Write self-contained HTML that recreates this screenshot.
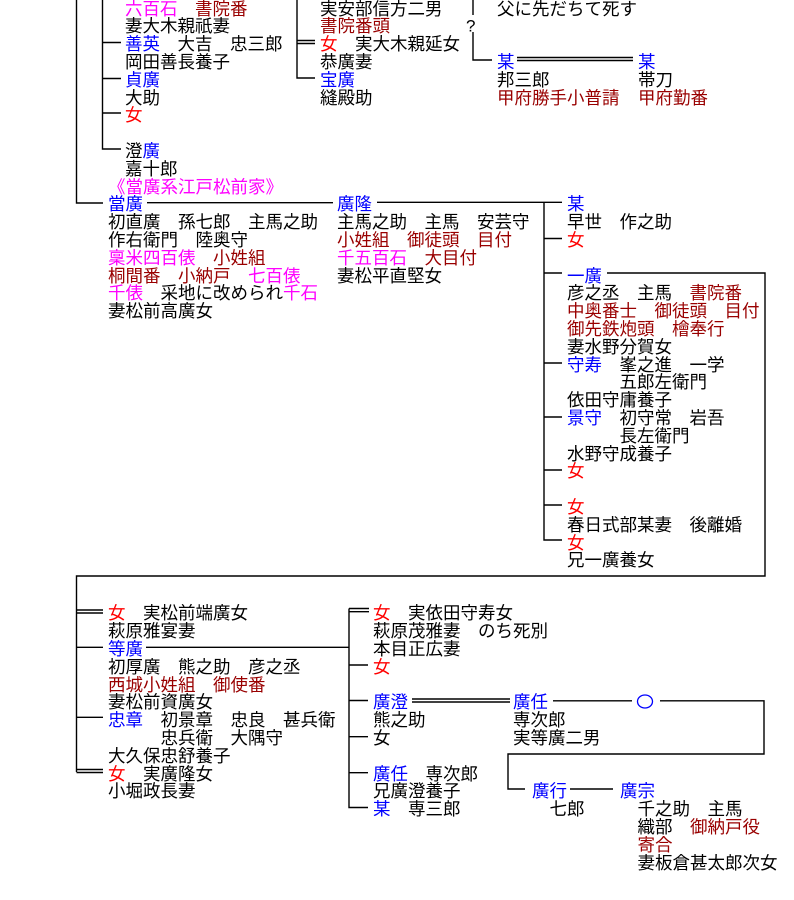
<!DOCTYPE html>
<html><head><meta charset="utf-8">
<style>
html,body{margin:0;padding:0;background:#fff;}
#c{position:relative;width:794px;height:900px;overflow:hidden;background:#fff;}
.t{position:absolute;white-space:pre;font-family:"Liberation Sans","Noto Sans CJK JP",sans-serif;font-size:17.5px;line-height:17.8px;color:#000;}
.b{color:#0000ff}.r{color:#ff0000}.m{color:#ff00ff}.d{color:#990000}
svg{position:absolute;left:0;top:0;}
</style></head><body><div id="c">
<svg width="794" height="900" viewBox="0 0 794 900" fill="none" stroke="#000" stroke-width="1.4">
<!-- top section -->
<path d="M76.5 0V203H103"/>
<path d="M102.5 0V149H121M102.5 42.5H121M102.5 78.5H121M102.5 113H121"/>
<path d="M297 0V78H315M297 40.5H315M297 43.5H315"/>
<path d="M473 0V15M473 32V60H492"/>
<path d="M517 57.5H633M517 60.5H633"/>
<path d="M147 202.7H333"/>
<path d="M377 202.3H562"/>
<path d="M544 202.3V540H562M544 238.5H562M544 273H562M544 363H562M544 417H562M544 470H562M544 505H562"/>
<path d="M607 273H765V576H76.5V772"/>
<!-- bottom section -->
<path d="M76.5 610H103M76.5 613H103M76.5 647.3H103M76.5 717.3H103M76.5 769.5H103M76.5 772.5H103"/>
<path d="M146 647.3H349"/>
<path d="M349 608.5H369M349 611.7H369M349 608.5V807.5H368M349 665H368M349 700.5H368M349 736.7H368M349 772.7H368"/>
<path d="M412 699H510M412 702H510"/>
<path d="M553 700.8H632M660 700.8H764V754H508V789H525"/>
<path d="M570 789H613"/>
<ellipse cx="645" cy="701.5" rx="7.5" ry="6.5" stroke="#0000ff" stroke-width="1.3"/>
<text x="466" y="31.5" font-family="Liberation Sans, sans-serif" font-size="17" fill="#000" stroke="none">?</text>
</svg>

<!-- top-left column -->
<div class="t" style="left:125px;top:0.6px"><span class="m">六百石</span>　<span class="d">書院番</span>
妻大木親祇妻
<span class="b">善英</span>　大吉　忠三郎
岡田善長養子
<span class="b">貞廣</span>
大助
<span class="r">女</span>

澄<span class="b">廣</span>
嘉十郎</div>

<div class="t" style="left:108px;top:178.6px"><span class="m">《當廣系江戸松前家》</span>
<span class="b">當廣</span>
初直廣　孫七郎　主馬之助
作右衛門　陸奥守
<span class="m">稟米四百俵</span>　<span class="d">小姓組</span>
<span class="d">桐間番</span>　<span class="d">小納戸</span>　<span class="m">七百俵</span>
<span class="m">千俵</span>　采地に改められ<span class="m">千石</span>
妻松前高廣女</div>

<!-- top middle -->
<div class="t" style="left:320px;top:0.6px">実安部信方二男
<span class="d">書院番頭</span>
<span class="r">女</span>　実大木親延女
恭廣妻
<span class="b">宝廣</span>
縫殿助</div>

<div class="t" style="left:497px;top:0.6px">父に先だちて死す


<span class="b">某</span>
邦三郎
<span class="d">甲府勝手小普請</span></div>

<div class="t" style="left:638px;top:54px"><span class="b">某</span>
帯刀
<span class="d">甲府勤番</span></div>

<!-- 廣隆 -->
<div class="t" style="left:337px;top:196.4px"><span class="b">廣隆</span>
主馬之助　主馬　安芸守
<span class="d">小姓組　御徒頭　目付</span>
<span class="m">千五百石</span>　<span class="d">大目付</span>
妻松平直堅女</div>

<!-- right column -->
<div class="t" style="left:567px;top:196.4px"><span class="b">某</span>
早世　作之助
<span class="r">女</span>

<span class="b">一廣</span>
彦之丞　主馬　<span class="d">書院番</span>
<span class="d">中奥番士　御徒頭　目付</span>
<span class="d">御先鉄炮頭　檜奉行</span>
妻水野分賀女
<span class="b">守寿</span>　峯之進　一学
　　　五郎左衛門
依田守庸養子
<span class="b">景守</span>　初守常　岩吾
　　　長左衛門
水野守成養子
<span class="r">女</span>

<span class="r">女</span>
春日式部某妻　後離婚
<span class="r">女</span>
兄一廣養女</div>

<!-- bottom left -->
<div class="t" style="left:108px;top:605.4px"><span class="r">女</span>　実松前端廣女
萩原雅宴妻
<span class="b">等廣</span>
初厚廣　熊之助　彦之丞
<span class="d">西城小姓組　御使番</span>
妻松前資廣女
<span class="b">忠章</span>　初景章　忠良　甚兵衛
　　　忠兵衛　大隅守
大久保忠舒養子
<span class="r">女</span>　実廣隆女
小堀政長妻</div>

<!-- bottom middle -->
<div class="t" style="left:373px;top:605.4px"><span class="r">女</span>　実依田守寿女
萩原茂雅妻　のち死別
本目正広妻
<span class="r">女</span>

<span class="b">廣澄</span>
熊之助
女

<span class="b">廣任</span>　専次郎
兄廣澄養子
<span class="b">某</span>　専三郎</div>

<div class="t" style="left:513px;top:694.4px"><span class="b">廣任</span>
専次郎
実等廣二男</div>

<div class="t" style="left:532px;top:783.4px"><span class="b">廣行</span>
　七郎</div>

<div class="t" style="left:620px;top:783.4px"><span class="b">廣宗</span>
　千之助　主馬
　織部　<span class="d">御納戸役</span>
　<span class="d">寄合</span>
　妻板倉甚太郎次女</div>

</div></body></html>
